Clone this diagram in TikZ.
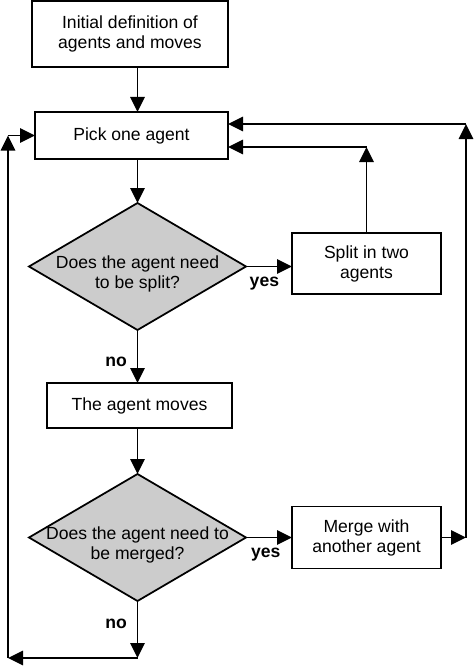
\documentclass[tikz,border=0pt]{standalone}
\usepackage{fontspec}
\setmainfont{Liberation Sans}
\usepackage{tikz}
\usetikzlibrary{shapes.geometric, positioning, calc, arrows.meta}
\colorlet{questiongray}{gray!40}

\begin{document}
\begin{tikzpicture}[>={Triangle[length=3mm, width=2.9mm]}, line width=1pt,
  block/.style 2 args={rectangle, draw, align=center, inner sep=0pt, outer sep=0pt, minimum width=#1, minimum height=#2, font=\fontsize{10}{11.4}\selectfont},
  decision/.style={diamond, draw, fill=questiongray, inner sep=0pt, outer sep=0pt, minimum width=4.34cm, minimum height=2.54cm},
  qtext/.style={align=center, inner sep=0pt, font=\fontsize{10}{11.4}\selectfont},
  answer/.style={inner sep=5.5pt, font=\fontsize{10}{12}\selectfont\bfseries}]

\useasboundingbox (0,0) rectangle (9.48,-13.34);

% Steps

\node [block={3.92cm}{1.32cm}] (init) at (2.6,-0.68) {Initial definition of\\agents and moves};
\node [block={3.86cm}{0.94cm}, below=0.9cm of init.south east, anchor=north east] (pick) {Pick one agent};

\node [decision, below=0.88cm of pick, xshift=0.12cm] (splitq) {};
\node [qtext, yshift=-0.15cm] at (splitq) (splitqtext) {Does the agent need\\to be split?};
\node [block={2.98cm}{1.22cm}, right=0.92cm of splitq, yshift=0.06cm] (split) {Split in two\\agents};

\node [block={3.7cm}{0.9cm}, below=1.06cm of splitq, xshift=0.04cm] (moves) {The agent moves};

\node [decision, below=0.92cm of moves, xshift=-0.04cm] (mergeq) {};
\node [qtext, yshift=-0.15cm] at (mergeq) (mergeqtext) {Does the agent need to\\be merged?};
\node [block={2.98cm}{1.24cm}, right=0.92cm of mergeq] (merge) {Merge with\\another agent};

% Loop corners

\coordinate [below=0.24cm of pick.north east] (pickouter);
\coordinate [below=0.7cm of pick.north east] (pickinner);
\coordinate [right=0.5cm of merge.east] (mergeout);
\coordinate [below=1.14cm of mergeq.south] (mergeno);
\coordinate [left=2.59cm of mergeno] (leftcorner);

% Arrows

\draw[->] (init.south -| splitq.north) -- (pick.north -| splitq.north);
\draw[->] (pick.south -| splitq.north) -- (splitq.north);
\draw[->] (splitq.east) -- node[answer, below, pos=0.4] {yes} (splitq.east -| split.west);
\draw[->] (splitq.south) -- node[answer, left, pos=0.6] {no} (splitq.south |- moves.north);
\draw[->] (moves.south -| mergeq.north) -- (mergeq.north);
\draw[->] (mergeq.east) -- node[answer, below, pos=0.43] {yes} (merge.west);
\draw[->] (mergeq.south) -- node[answer, left, pos=0.4] {no} (mergeno);

\draw[->] (mergeno) -- (leftcorner);
\draw[->] (leftcorner) -- (leftcorner |- pick.west);
\draw[->] (leftcorner |- pick.west) -- (pick.west);

\draw[->] (split.north) -- (split.north |- pickinner);
\draw[->] (split.north |- pickinner) -- (pickinner);

\draw[->] (merge.east) -- (mergeout);
\draw[->] (mergeout) -- (mergeout |- pickouter);
\draw[->] (mergeout |- pickouter) -- (pickouter);

\end{tikzpicture}
\end{document}
